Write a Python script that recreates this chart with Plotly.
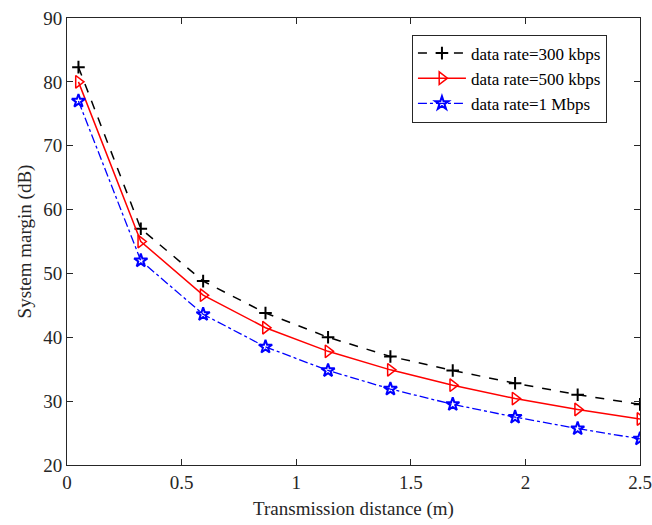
import plotly.graph_objects as go

distance = [0.05, 0.322, 0.594, 0.866, 1.139, 1.411, 1.683, 1.955, 2.228, 2.5]
margin_300k = [82.3, 57.0, 48.8, 43.8, 40.0, 37.0, 34.8, 32.8, 31.0, 29.5]
margin_500k = [80.0, 55.0, 46.6, 41.5, 37.8, 34.9, 32.5, 30.4, 28.7, 27.2]
margin_1m = [77.0, 52.0, 43.6, 38.5, 34.8, 31.9, 29.5, 27.5, 25.7, 24.1]
names = ["data rate=300 kbps", "data rate=500 kbps", "data rate=1 Mbps"]
x_ticks = [0, 0.5, 1, 1.5, 2, 2.5]
x_tick_text = ["0", "0.5", "1", "1.5", "2", "2.5"]
y_ticks = [20, 30, 40, 50, 60, 70, 80, 90]

fig = go.Figure()
fig.add_trace(go.Scatter(
    x=distance, y=margin_300k, name=names[0], mode="lines+markers",
    line=dict(color="black", width=1.5, dash="dash"),
    marker=dict(symbol="cross-thin-open", size=9, color="black",
                line=dict(color="black", width=2)),
))
fig.add_trace(go.Scatter(
    x=distance, y=margin_500k, name=names[1], mode="lines+markers",
    line=dict(color="red", width=1.5),
    marker=dict(symbol="triangle-right-open", size=11, color="red",
                line=dict(color="red", width=1.5)),
))
fig.add_trace(go.Scatter(
    x=distance, y=margin_1m, name=names[2], mode="lines+markers",
    line=dict(color="blue", width=1.3, dash="dashdot"),
    marker=dict(symbol="star-open", size=10, color="blue",
                line=dict(color="blue", width=2)),
))

axis_common = dict(
    showgrid=False, zeroline=False, showline=True, linecolor="#262626",
    linewidth=1, mirror="ticks", ticks="inside", ticklen=6, tickcolor="#262626",
    tickfont=dict(family="Liberation Serif", size=19, color="#262626"),
    automargin=False, ticklabeloverflow="allow",
)
fig.update_layout(
    width=652, height=525,
    margin=dict(l=67, r=12, t=18, b=60),
    paper_bgcolor="white", plot_bgcolor="white",
    font=dict(family="Liberation Serif", color="#262626"),
    showlegend=True,
    legend=dict(
        x=0.602, y=0.963, xanchor="left", yanchor="top",
        bgcolor="white", bordercolor="#262626", borderwidth=1,
        font=dict(family="Liberation Serif", size=17, color="black"),
        tracegroupgap=0, itemwidth=48,
    ),
    xaxis=dict(range=[0, 2.5], tickvals=x_ticks, ticktext=x_tick_text,
               title=dict(text="Transmission distance (m)", standoff=9,
                          font=dict(family="Liberation Serif", size=19, color="#262626")),
               **axis_common),
    yaxis=dict(range=[20, 90], tickvals=y_ticks,
               title=dict(text="System margin (dB)", standoff=6,
                          font=dict(family="Liberation Serif", size=19, color="#262626")),
               **axis_common),
)
fig.write_html(
    "out.html",
    config={"displayModeBar": False},
    post_script="document.body.style.margin='0';document.body.style.overflow='hidden';",
)
